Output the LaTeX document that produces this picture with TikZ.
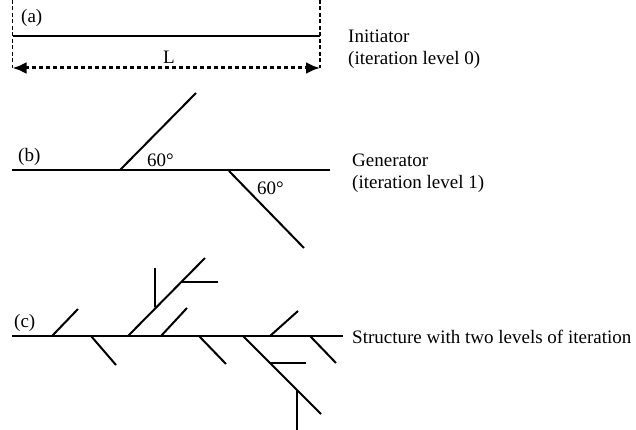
\documentclass[tikz,border=0pt]{standalone}
\usepackage{fontspec}
\setmainfont{Liberation Serif}
\usetikzlibrary{arrows.meta}
\begin{document}
\begin{tikzpicture}[x=1pt,y=-1pt,
  seg/.style={line width=2pt},
  guide/.style={line width=1.5pt, dash pattern=on 4pt off 2.5pt},
  dimline/.style={line width=3pt, dash pattern=on 4pt off 3pt,
    {Latex[length=14pt,width=12pt]}-{Latex[length=14pt,width=12pt]}},
  lbl/.style={inner sep=0pt, anchor=base west, font=\fontsize{19}{22}\selectfont}]
\useasboundingbox (0,0) rectangle (636,430);
% (a) initiator
\coordinate (aL) at (12.5,36); \coordinate (aR) at (320,36);
\coordinate (aLt) at (12.5,0); \coordinate (aRt) at (320,0);
\coordinate (aLb) at (12.5,68); \coordinate (aRb) at (320,68);
\draw[seg] (aL) -- (aR);
\draw[guide] (aLt) -- (aLb);
\draw[guide] (aRt) -- (aRb);
\draw[dimline] (aLb) -- (aRb);
\node[lbl] (la) at (21,23) {(a)};
\node[lbl] (lL) at (163,64) {L};
\node[lbl] (ini1) at (348,43) {Initiator};
\node[lbl] (ini2) at (348,65) {(iteration level 0)};
% (b) generator
\draw[seg] (12,170) -- (330,170);
\draw[seg] (120,170) -- (196,93);
\draw[seg] (229,171) -- (304,248);
\node[lbl] (lb) at (18,162) {(b)};
\node[lbl] (ang1) at (147,167) {60°};
\node[lbl] (ang2) at (257,195) {60°};
\node[lbl] (gen1) at (352,167) {Generator};
\node[lbl] (gen2) at (352,189) {(iteration level 1)};
% (c) two levels
\draw[seg] (12,336) -- (343,336);
\draw[seg] (52,336) -- (78,309);
\draw[seg] (91,336) -- (116,365);
\draw[seg] (128,336) -- (205,258);
\draw[seg] (155,307) -- (155,268);
\draw[seg] (182,282) -- (218,282);
\draw[seg] (161,336) -- (187,308);
\draw[seg] (199,336) -- (226,364);
\draw[seg] (243,336) -- (321,414);
\draw[seg] (270,363) -- (306,363);
\draw[seg] (297,390) -- (297,430);
\draw[seg] (270,336) -- (298,311);
\draw[seg] (310,336) -- (336,363);
\node[lbl] (lc) at (14,327) {(c)};
\node[lbl] (str) at (352,343) {Structure with two levels of iteration};
\end{tikzpicture}
\end{document}
